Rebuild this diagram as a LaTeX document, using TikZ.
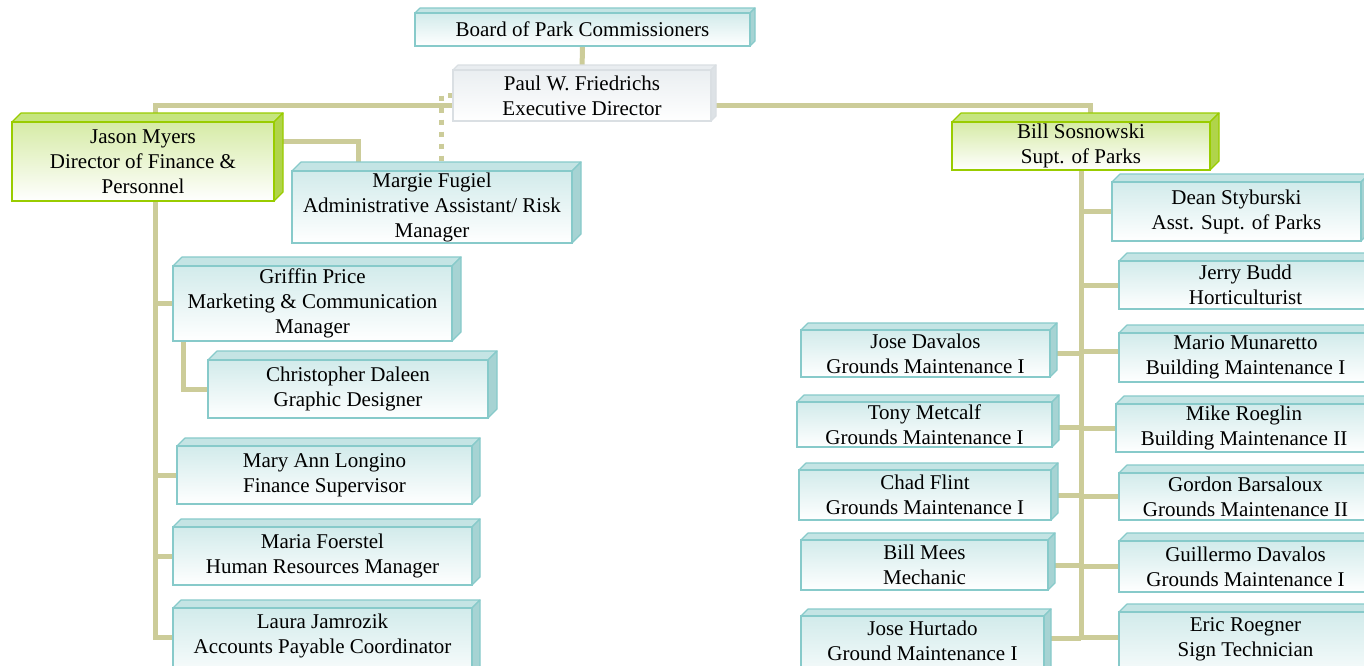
\documentclass[tikz,border=0pt]{standalone}
\usepackage{fontspec}
\setmainfont{Liberation Serif}
\pgfdeclarelayer{bg}
\pgfsetlayers{bg,main}
\definecolor{conncol}{RGB}{204,204,153}
\definecolor{tealline}{RGB}{135,202,202}
\definecolor{tealtop}{RGB}{196,228,228}
\definecolor{tealside}{RGB}{166,211,211}
\definecolor{tealfront}{RGB}{210,235,235}
\definecolor{greenline}{RGB}{153,204,0}
\definecolor{greentop}{RGB}{197,229,127}
\definecolor{greenside}{RGB}{176,212,74}
\definecolor{greenfront}{RGB}{214,235,166}
\definecolor{greyline}{RGB}{218,223,227}
\definecolor{greytop}{RGB}{233,237,240}
\definecolor{greyside}{RGB}{221,226,230}
\definecolor{greyfront}{RGB}{234,238,241}
\tikzset{
  conn/.style={draw=conncol, line width=5pt},
  dotconn/.style={conn, dash pattern=on 5pt off 7pt},
  boxbase/.style={inner sep=0pt, outer sep=0pt, align=center, text=black,
    font=\fontsize{21}{25}\selectfont, line width=1.5pt, bottom color=white},
  boxteal/.style={boxbase, draw=tealline, top color=tealfront},
  boxgreen/.style={boxbase, draw=greenline, top color=greenfront, line width=2pt},
  boxgrey/.style={boxbase, draw=greyline, top color=greyfront},
}
% #1 name, #2 x1, #3 y1, #4 x2, #5 y2, #6 depth, #7 kind, #8 text
\newcommand\cbox[8]{%
  \filldraw[fill=#7top, draw=#7line, line width=1.2pt, line join=round]
    (#2,#3) -- ++(#6,-#6) -- ({#4+#6},{#3-#6}) -- (#4,#3) -- cycle;
  \filldraw[fill=#7side, draw=#7line, line width=1.2pt, line join=round]
    (#4,#3) -- ({#4+#6},{#3-#6}) -- ({#4+#6},{#5-#6}) -- (#4,#5) -- cycle;
  \node[box#7, minimum width={#4-#2}, minimum height={#5-#3}]
    (#1) at ({(#2+#4)/2},{(#3+#5)/2}) {#8};
}
\begin{document}
\begin{tikzpicture}[x=1pt,y=-1pt]
\useasboundingbox (0,0) rectangle (1364,665);

\cbox{board}{415}{13}{750}{46}{5}{teal}{Board of Park Commissioners}
\cbox{paul}{453}{70}{711}{121}{5}{grey}{Paul W. Friedrichs\\Executive Director}
\cbox{jason}{12}{122}{274}{201}{9}{green}{Jason Myers\\Director of Finance \&\\Personnel}
\cbox{margie}{292}{171}{572}{243}{9}{teal}{Margie Fugiel\\Administrative Assistant/ Risk\\Manager}
\cbox{griffin}{173}{266}{452}{341}{9}{teal}{Griffin Price\\Marketing \& Communication\\Manager}
\cbox{chris}{208}{360}{488}{418}{9}{teal}{Christopher Daleen\\Graphic Designer}
\cbox{maryann}{177}{446}{472}{504}{8}{teal}{Mary Ann Longino\\Finance Supervisor}
\cbox{maria}{173}{527}{472}{585}{8}{teal}{Maria Foerstel\\Human Resources Manager}
\cbox{laura}{173}{608}{472}{684}{8}{teal}{Laura Jamrozik\\Accounts Payable Coordinator\\\mbox{}}

\cbox{bill}{952}{122}{1210}{170}{9}{green}{Bill Sosnowski\\Supt. of Parks}
\cbox{dean}{1112}{182}{1361}{241}{8}{teal}{Dean Styburski\\Asst. Supt. of Parks}
\cbox{jerry}{1119}{261}{1372}{309}{8}{teal}{Jerry Budd\\Horticulturist}
\cbox{mario}{1119}{333}{1372}{382}{8}{teal}{Mario Munaretto\\Building Maintenance I}
\cbox{mike}{1116}{404}{1372}{452}{8}{teal}{Mike Roeglin\\Building Maintenance II}
\cbox{gordon}{1119}{473}{1372}{520}{8}{teal}{Gordon Barsaloux\\Grounds Maintenance II}
\cbox{guillermo}{1119}{541}{1372}{592}{8}{teal}{Guillermo Davalos\\Grounds Maintenance I}
\cbox{eric}{1119}{612}{1372}{688}{8}{teal}{Eric Roegner\\Sign Technician\\\mbox{}}

\cbox{josed}{801}{330}{1050}{377}{7}{teal}{Jose Davalos\\Grounds Maintenance I}
\cbox{tony}{797}{402}{1052}{447}{7}{teal}{Tony Metcalf\\Grounds Maintenance I}
\cbox{chad}{799}{470}{1051}{520}{7}{teal}{Chad Flint\\Grounds Maintenance I}
\cbox{mees}{801}{540}{1048}{590}{7}{teal}{Bill Mees\\Mechanic}
\cbox{joseh}{801}{616}{1044}{690}{7}{teal}{Jose Hurtado\\Ground Maintenance I\\\mbox{}}

\coordinate (jt) at ([xshift=12pt]jason.south);
\coordinate (rt) at (bill.south);

\begin{pgfonlayer}{bg}
\fill[white] (0,0) rectangle (1364,665);
\draw[conn] (board.south) -- (paul.north);
\draw[conn] ([xshift=12pt]jason.north) |- ([yshift=-9.5pt]paul.west);
\draw[conn] ([yshift=-9.5pt]paul.east) -| ([xshift=9pt]bill.north);
\draw[dotconn] (paul.west) -| ([xshift=9pt]margie.north);
\draw[conn] ([yshift=20.5pt]jason.east) -| ([xshift=-74pt]margie.north);
\draw[conn] (jt) |- ([yshift=9pt]laura.west);
\foreach \n in {griffin,maryann,maria} \draw[conn] (\n.west) -- (\n.west -| jt);
\draw[conn] ([xshift=-129.5pt]griffin.south) |- (chris.west);
\draw[conn] (rt) |- ([yshift=13pt]eric.west);
\foreach \n in {dean,jerry,mike,gordon,guillermo} \draw[conn] (\n.west) -- (\n.west -| rt);
\draw[conn] ([yshift=6.5pt]mario.west) -- ([yshift=6.5pt]mario.west -| rt);
\foreach \n in {josed,chad,mees} \draw[conn] (\n.east) -- (\n.east -| rt);
\draw[conn] ([yshift=-2.5pt]tony.east) -- ([yshift=-2.5pt]tony.east -| rt);
\draw[conn] ([yshift=15pt]joseh.east) -- ([yshift=15pt]joseh.east -| rt);
\end{pgfonlayer}
\end{tikzpicture}
\end{document}
